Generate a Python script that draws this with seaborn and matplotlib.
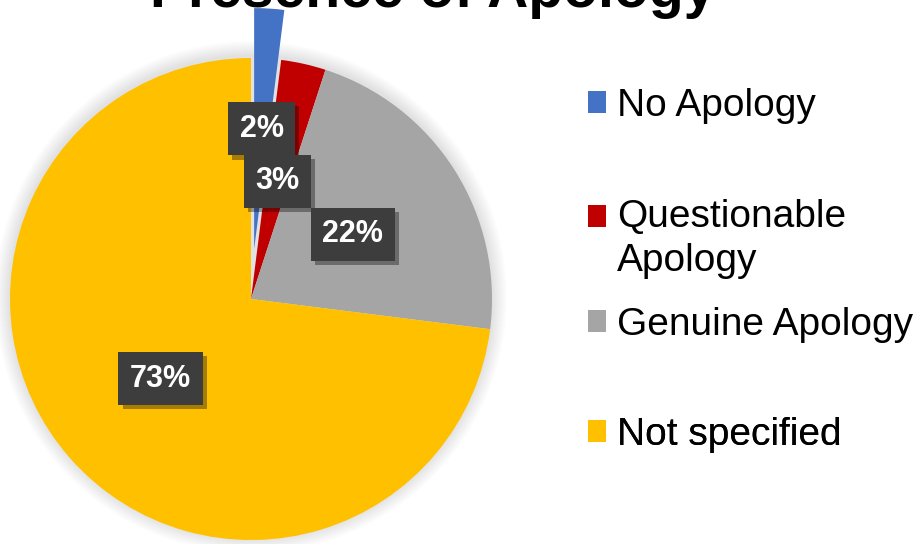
import matplotlib
matplotlib.use('Agg')
import matplotlib.pyplot as plt
import matplotlib.patheffects as pe
from matplotlib.patches import Patch, Rectangle, Circle
from matplotlib.legend_handler import HandlerPatch
import seaborn as sns

# data
labels = ['No Apology', 'Questionable\nApology', 'Genuine Apology', 'Not specified']
shares = [2, 3, 22, 73]
colors = ['#4472C4', '#C00000', '#A5A5A5', '#FFC000']
explode = [50, 0, 0, 0]

sns.set_theme(style='white')
plt.rcParams['font.family'] = ['Liberation Sans', 'DejaVu Sans']
plt.rcParams['text.color'] = 'black'

fig = plt.figure(figsize=(9.22, 5.44), dpi=100)
ax = fig.add_axes([0, 0, 1, 1])

cx, cy, r = 251, 245, 241
# soft glow around the pie
for k in range(1, 16):
    ax.add_patch(Circle((cx, cy + 2), r + k, color='black', alpha=0.009, lw=0, zorder=0))

wedges, texts, autotexts = ax.pie(
    shares, colors=sns.color_palette(colors), explode=explode,
    startangle=90, counterclock=False, center=(cx, cy), radius=r,
    autopct='%1.0f%%', pctdistance=0.5, wedgeprops=dict(linewidth=0))

for t in autotexts:
    t.set_color('white')
    t.set_fontsize(22)
    t.set_fontweight('bold')
    t.set_bbox(dict(boxstyle='square,pad=0.38', fc='#3d3d3d', ec='none'))
    t.get_bbox_patch().set_path_effects(
        [pe.SimplePatchShadow(offset=(3, -3), shadow_rgbFace='black', alpha=0.35), pe.Normal()])

ax.set_xlim(0, 922)
ax.set_ylim(0, 544)
ax.set_aspect('auto')
ax.axis('off')

# title is cut off at the top in the original
fig.text(433 / 922, 537 / 544, 'Presence of Apology', ha='center', va='baseline',
         fontsize=41, fontweight='bold', color='black')


# square marker sits on the first line of a wrapped label
def top_square(legend, orig_handle, xdescent, ydescent, width, height, fontsize):
    n_lines = legend_label.count('\n')
    shift = n_lines * fontsize * 0.6
    return Rectangle((-xdescent, -ydescent + shift), width, height)


legend_y = [106, 239, 325, 435]
for lab, col, y in zip(labels, colors, legend_y):
    legend_label = lab
    leg = ax.legend([Patch(facecolor=col, edgecolor='none')], [lab],
                    loc='center left', bbox_to_anchor=(588 / 922, 1 - y / 544),
                    bbox_transform=fig.transFigure, frameon=False, fontsize=28,
                    handlelength=0.47, handleheight=0.47, handletextpad=0.28,
                    labelspacing=0.1, borderpad=0, borderaxespad=0,
                    handler_map={Patch: HandlerPatch(patch_func=top_square)})
    for t in leg.get_texts():
        t.set_linespacing(1.3)
    ax.add_artist(leg)

fig.savefig('out.png', dpi=100)
